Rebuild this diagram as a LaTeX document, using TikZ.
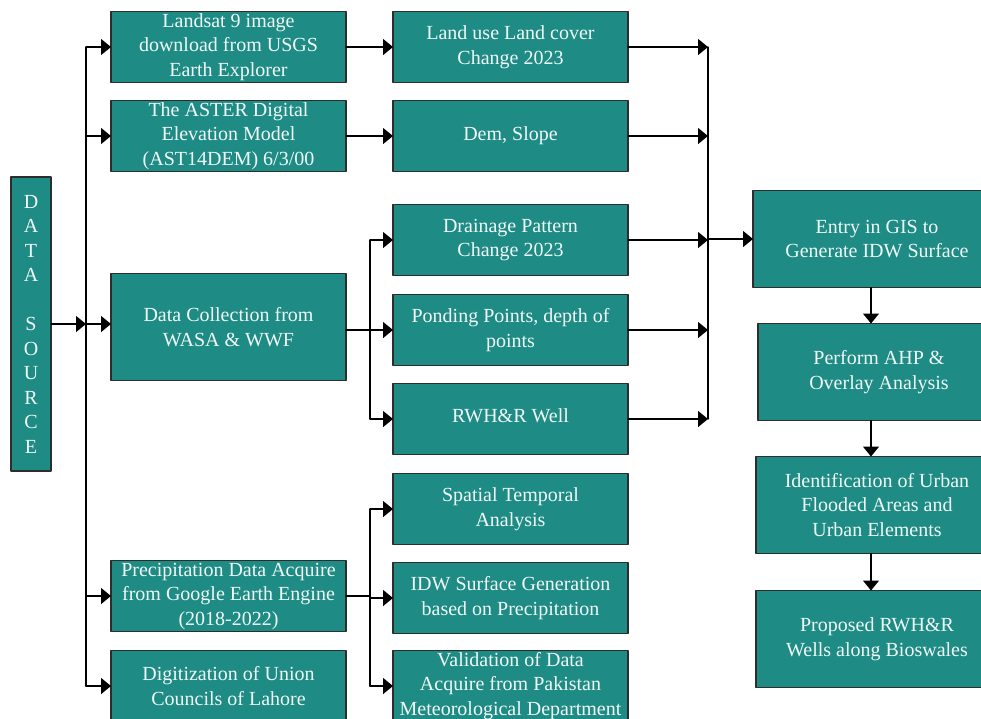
\documentclass[tikz,border=0pt]{standalone}
\usepackage{fontspec}
\setmainfont{Liberation Serif}
\usetikzlibrary{arrows.meta}

\definecolor{boxteal}{RGB}{30,140,133}
\definecolor{boxedge}{RGB}{45,45,45}

\begin{document}
\begin{tikzpicture}[x=1pt, y=-1pt, line cap=round, line join=round,
    box/.style={draw=boxedge, line width=1.3pt, fill=boxteal, text=white!94!boxteal,
      align=center, font=\fontsize{20}{24.5}\selectfont, inner sep=0pt, outer sep=0pt,
      minimum width=235pt, minimum height=71pt},
    arr/.style={-{Triangle[length=10pt,width=16pt]}, line width=1.3pt},
    bus/.style={line width=1.3pt}]

    % page frame (drawing units = pixels of the reference)
    \useasboundingbox (0,0) rectangle (981,718);

    % bus positions
    \coordinate (busL)  at (86,0);   % left bus
    \coordinate (busM)  at (370,0);  % middle buses
    \coordinate (busR)  at (708,0);  % right bus
    \coordinate (spine) at (871,0);  % right column arrows

    % data source
    \node[box, minimum width=40pt, minimum height=294pt] (src) at (31,324)
        {D\\A\\T\\A\\[24.5pt]S\\O\\U\\R\\C\\E};

    % first column
    \node[box] (landsat) at (228.5,47)  {Landsat 9 image\\download from USGS\\Earth Explorer};
    \node[box] (aster)   at (228.5,136) {The ASTER Digital\\Elevation Model\\(AST14DEM) 6/3/00};
    \node[box, minimum height=107pt] (wasa) at (228.5,327) {Data Collection from\\WASA \& WWF};
    \node[box] (precip)  at (228.5,596) {Precipitation Data Acquire\\from Google Earth Engine\\(2018-2022)};
    \node[box] (digit)   at (228.5,686) {Digitization of Union\\Councils of Lahore};

    % second column
    \node[box] (lulc)  at (510.5,47)  {Land use Land cover\\Change 2023};
    \node[box] (dem)   at (510.5,136) {Dem, Slope};
    \node[box] (drain) at (510.5,240) {Drainage Pattern\\Change 2023};
    \node[box] (pond)  at (510.5,330) {Ponding Points, depth of\\points};
    \node[box] (rwh)   at (510.5,419) {\raisebox{6pt}{RWH\&R Well}};
    \node[box] (spat)  at (510.5,509) {Spatial Temporal\\Analysis};
    \node[box] (idw)   at (510.5,598) {IDW Surface Generation\\based on Precipitation};
    \node[box] (valid) at (510.5,686) {Validation of Data\\Acquire from Pakistan\\Meteorological Department};

    % right column
    \node[box, minimum width=248pt, minimum height=97pt] (entry) at (877,239) {Entry in GIS to\\Generate IDW Surface};
    \node[box, minimum width=242pt, minimum height=97pt] (ahp)   at (879,372) {Perform AHP \&\\Overlay Analysis};
    \node[box, minimum width=242pt, minimum height=97pt] (ident) at (877,505) {Identification of Urban\\Flooded Areas and\\Urban Elements};
    \node[box, minimum width=242pt, minimum height=97pt] (prop)  at (877,639) {Proposed RWH\&R\\Wells along Bioswales};

    % source to first column
    \draw[arr] (src.east) -- (src.east -| busL);
    \draw[bus] (landsat.west -| busL) -- (digit.west -| busL);
    \foreach \n in {landsat,aster,precip,digit}
        \draw[arr] (\n.west -| busL) -- (\n.west);
    \draw[arr] (src.east -| busL) -- (src.east -| wasa.west);

    % first to second column
    \draw[arr] (landsat.east) -- (lulc.west);
    \draw[arr] (aster.east) -- (dem.west);
    \draw[bus] (wasa.east |- pond.west) -- (pond.west -| busM);
    \draw[bus] (drain.west -| busM) -- (rwh.west -| busM);
    \foreach \n in {drain,pond,rwh}
        \draw[arr] (\n.west -| busM) -- (\n.west);
    \draw[bus] (precip.east) -- (precip.east -| busM);
    \draw[bus] (spat.west -| busM) -- (valid.west -| busM);
    \foreach \n in {spat,idw,valid}
        \draw[arr] (\n.west -| busM) -- (\n.west);

    % second column to GIS
    \foreach \n in {lulc,dem,drain,pond,rwh}
        \draw[arr] (\n.east) -- (\n.east -| busR);
    \draw[bus] (lulc.east -| busR) -- (rwh.east -| busR);
    \draw[arr] (entry.west -| busR) -- (entry.west);

    % right column chain
    \draw[arr] (entry.south -| spine) -- (ahp.north -| spine);
    \draw[arr] (ahp.south -| spine) -- (ident.north -| spine);
    \draw[arr] (ident.south -| spine) -- (prop.north -| spine);

\end{tikzpicture}
\end{document}
